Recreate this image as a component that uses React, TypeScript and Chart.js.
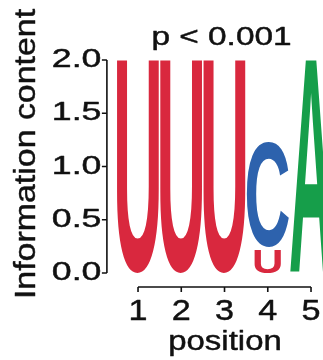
import React, { useEffect, useRef } from 'react';
import { Chart, registerables } from 'chart.js';

Chart.register(...registerables);

// ---- data ----
const POSITIONS = [1, 2, 3, 4, 5];
const LETTER_U = [2.0, 2.0, 2.0, 0.23, 0];
const LETTER_C = [0, 0, 0, 1.0, 0];
const LETTER_A = [0, 0, 0, 0, 2.0];
const Y_TICKS = [0, 0.5, 1.0, 1.5, 2.0];
const X_TICKS = [1, 2, 3, 4, 5];
const Y_TITLE = 'Information content';
const X_TITLE = 'position';
const P_LABEL = 'p < 0.001';

const LETTER_COLORS: Record<string, string> = {
  U: '#D9283E',
  C: '#2D62AD',
  A: '#169E4A',
};

const FONT = '"Liberation Sans", Arial, Helvetica, sans-serif';
const INK = '#111';

function stretchedText(
  ctx: CanvasRenderingContext2D,
  text: string,
  x: number,
  y: number,
  size: number,
  stretch: number,
  align: CanvasTextAlign,
  rotate = false
) {
  ctx.save();
  ctx.translate(x, y);
  if (rotate) ctx.rotate(-Math.PI / 2);
  ctx.scale(stretch, 1);
  ctx.font = `${size}px ${FONT}`;
  ctx.textAlign = align;
  ctx.textBaseline = 'alphabetic';
  ctx.fillStyle = INK;
  ctx.strokeStyle = INK;
  ctx.lineWidth = 0.45;
  ctx.lineJoin = 'round';
  ctx.fillText(text, 0, 0);
  ctx.strokeText(text, 0, 0);
  ctx.restore();
}

const logoPlugin = {
  id: 'logoLetters',
  afterDatasetsDraw(chart: any) {
    const ctx: CanvasRenderingContext2D = chart.ctx;
    const area = chart.chartArea;
    const datasets = chart.data.datasets;
    ctx.save();
    ctx.font = `bold 200px ${FONT}`;
    ctx.textAlign = 'left';
    ctx.textBaseline = 'alphabetic';
    datasets.forEach((ds: any, di: number) => {
      const letter = ds.label as string;
      const meta = chart.getDatasetMeta(di);
      const m = ctx.measureText(letter);
      const L = m.actualBoundingBoxLeft;
      const R = m.actualBoundingBoxRight;
      const A = m.actualBoundingBoxAscent;
      const D = m.actualBoundingBoxDescent;
      const gw = L + R;
      const gh = A + D;
      meta.data.forEach((el: any, i: number) => {
        const v = ds.data[i].y;
        if (!v) return;
        const p = el.getProps(['x', 'y', 'base', 'width'], true);
        let top = Math.min(p.y, p.base);
        let bottom = Math.max(p.y, p.base);
        const hasAbove = datasets.some((o: any, oi: number) => oi > di && o.data[i].y > 0);
        if (hasAbove) top += 1;
        if (bottom < area.bottom - 0.5) bottom -= 1;
        const h = bottom - top;
        if (h < 1) return;
        const sy = h / gh;
        const sx = Math.min(p.width / gw, sy * 1.3);
        const dw = gw * sx;
        ctx.save();
        ctx.fillStyle = LETTER_COLORS[letter] || '#000';
        ctx.translate(p.x - dw / 2, bottom);
        ctx.scale(sx, sy);
        ctx.fillText(letter, L, -D);
        ctx.restore();
      });
    });
    ctx.restore();
  },
  afterDraw(chart: any) {
    const ctx: CanvasRenderingContext2D = chart.ctx;
    const area = chart.chartArea;
    const xs = chart.scales.x;
    const ys = chart.scales.y;
    ctx.save();
    ctx.strokeStyle = INK;
    ctx.lineWidth = 1.6;
    ctx.lineCap = 'butt';

    // y axis (offset spine)
    const ax = area.left - 9.5;
    const yTop = ys.getPixelForValue(Y_TICKS[Y_TICKS.length - 1]);
    const yBot = ys.getPixelForValue(Y_TICKS[0]);
    ctx.beginPath();
    ctx.moveTo(ax, yTop);
    ctx.lineTo(ax, yBot);
    Y_TICKS.forEach((t) => {
      const py = ys.getPixelForValue(t);
      ctx.moveTo(ax, py);
      ctx.lineTo(ax - 5, py);
    });
    ctx.stroke();
    Y_TICKS.forEach((t) => {
      const py = ys.getPixelForValue(t);
      stretchedText(ctx, t.toFixed(1), ax - 5.5, py + 7, 25.5, 1.4, 'right');
    });

    // x axis (offset spine)
    const ay = area.bottom + 14;
    const xL = xs.getPixelForValue(X_TICKS[0]);
    const xR = xs.getPixelForValue(X_TICKS[X_TICKS.length - 1]);
    ctx.beginPath();
    ctx.moveTo(xL, ay);
    ctx.lineTo(xR, ay);
    X_TICKS.forEach((t) => {
      const px = xs.getPixelForValue(t);
      ctx.moveTo(px, ay);
      ctx.lineTo(px, ay + 5);
    });
    ctx.stroke();
    X_TICKS.forEach((t) => {
      const px = xs.getPixelForValue(t);
      stretchedText(ctx, String(t), px, ay + 33, 30, 1.14, 'center');
    });

    // titles
    stretchedText(ctx, X_TITLE, 225, 350, 27, 1.22, 'center');
    stretchedText(ctx, Y_TITLE, 35, 154, 30, 1.13, 'center', true);
    stretchedText(ctx, P_LABEL, 221.5, 45, 25.5, 1.31, 'center');
    ctx.restore();
  },
};

export default function App() {
  const ref = useRef<HTMLCanvasElement | null>(null);

  useEffect(() => {
    if (!ref.current) return;
    const mk = (label: string, vals: number[]) => ({
      label,
      data: POSITIONS.map((p, i) => ({ x: p, y: vals[i] })),
      backgroundColor: 'rgba(0,0,0,0)',
      borderWidth: 0,
      barPercentage: 0.97,
      categoryPercentage: 1.0,
    });
    const chart = new Chart(ref.current, {
      type: 'bar',
      data: {
        datasets: [mk('U', LETTER_U), mk('C', LETTER_C), mk('A', LETTER_A)] as any,
      },
      options: {
        animation: false,
        responsive: false,
        events: [],
        layout: { padding: { left: 116.4, right: 0, top: 60, bottom: 87 } },
        plugins: { legend: { display: false }, tooltip: { enabled: false } },
        scales: {
          x: {
            type: 'linear',
            min: 0.5,
            max: 5.277,
            offset: false,
            stacked: true,
            display: false,
          },
          y: {
            type: 'linear',
            min: 0,
            max: 2,
            stacked: true,
            display: false,
          },
        },
      } as any,
      plugins: [logoPlugin],
    });
    return () => chart.destroy();
  }, []);

  return (
    <div style={{ position: 'fixed', left: 0, top: 0, width: 323, height: 360, background: '#fff', overflow: 'hidden' }}>
      <canvas ref={ref} width={323} height={360} style={{ display: 'block' }} />
    </div>
  );
}
